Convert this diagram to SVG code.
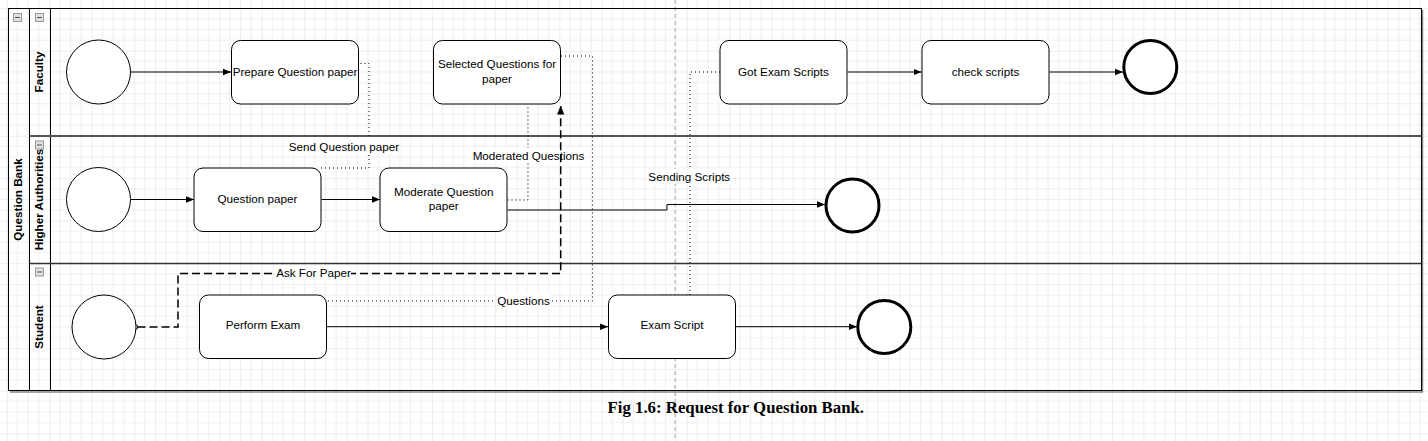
<svg xmlns="http://www.w3.org/2000/svg" width="1428" height="441" viewBox="0 0 1428 441">
<defs>
<pattern id="grid" patternUnits="userSpaceOnUse" x="6.8" y="8.2" width="42.5" height="42.5">
<rect width="42.5" height="42.5" fill="#ffffff"/>
<path d="M10.625 0V42.5M21.25 0V42.5M31.875 0V42.5M0 10.625H42.5M0 21.25H42.5M0 31.875H42.5" stroke="#efefef" stroke-width="1"/>
<path d="M0 0V42.5M0 0H42.5" stroke="#dcdcdc" stroke-width="1"/>
</pattern>
<marker id="arr" viewBox="0 0 10 10" refX="10" refY="5" markerWidth="8" markerHeight="8" markerUnits="userSpaceOnUse" orient="auto">
<path d="M0 1L10 5L0 9Z" fill="#000"/>
</marker>
<marker id="arrL" viewBox="0 0 10 10" refX="10" refY="5" markerWidth="9" markerHeight="9" markerUnits="userSpaceOnUse" orient="auto">
<path d="M0 1L10 5L0 9Z" fill="#000"/>
</marker>
</defs>
<style>
.box{fill:#fff;stroke:#000;stroke-width:1}
.start{fill:#fff;stroke:#000;stroke-width:1}
.end{fill:#fff;stroke:#000;stroke-width:3}
.t{font-family:"Liberation Sans",Arial,sans-serif;font-size:11.7px;fill:#000;text-anchor:middle}
.h{font-family:"Liberation Sans",Arial,sans-serif;font-size:11.7px;font-weight:bold;fill:#000;text-anchor:middle}
.flow{fill:none;stroke:#000;stroke-width:1;marker-end:url(#arr)}
.dot{fill:none;stroke:#000;stroke-width:1;stroke-dasharray:1 3}
.dash{fill:none;stroke:#000;stroke-width:1.5;stroke-dasharray:8 4}
.lbg{fill:#fff}
.icon{fill:#e0e0e0;stroke:#9a9a9a;stroke-width:1}
</style>
<rect width="1428" height="441" fill="url(#grid)"/>
<line x1="675" y1="0" x2="675" y2="441" stroke="#c4c4c4" stroke-width="1.5" stroke-dasharray="4 3"/>

<g id="pool">
<line x1="10" y1="392" x2="1423" y2="392" stroke="#888" stroke-width="1.5"/>
<line x1="1422.5" y1="10" x2="1422.5" y2="392" stroke="#888" stroke-width="1.5"/>
<rect x="8.5" y="8.5" width="1413" height="382" fill="none" stroke="#000" stroke-width="1"/>
<line x1="29.5" y1="8.5" x2="29.5" y2="390.5" stroke="#000"/>
<line x1="50.5" y1="8.5" x2="50.5" y2="390.5" stroke="#000"/>
<line x1="29.5" y1="136" x2="1421.5" y2="136" stroke="#555" stroke-width="1.8"/>
<line x1="29.5" y1="263.5" x2="1421.5" y2="263.5" stroke="#333" stroke-width="1.3"/>
<text class="h" transform="translate(22.3,199.5) rotate(-90)">Question Bank</text>
<rect class="icon" x="13.5" y="13.5" width="8" height="8"/><line x1="15" y1="17.5" x2="20" y2="17.5" stroke="#555"/>
</g>
<g id="lane-faculty">
<text class="h" transform="translate(43.3,72) rotate(-90)">Faculty</text>
<rect class="icon" x="35.5" y="13.5" width="8" height="8"/><line x1="37" y1="17.5" x2="42" y2="17.5" stroke="#555"/>
</g>
<g id="lane-higher">
<text class="h" transform="translate(43.3,199.5) rotate(-90)">Higher Authorities</text>
<rect class="icon" x="35.5" y="141" width="8" height="8"/><line x1="37" y1="145" x2="42" y2="145" stroke="#555"/>
</g>
<g id="lane-student">
<text class="h" transform="translate(43.3,327) rotate(-90)">Student</text>
<rect class="icon" x="35.5" y="268" width="8" height="8"/><line x1="37" y1="272" x2="42" y2="272" stroke="#555"/>
</g>

<g id="connectors">
<path class="flow" d="M130.5 72H231"/>
<path class="flow" d="M847.5 72H921.5"/>
<path class="flow" d="M1049.5 72H1123"/>
<path class="flow" d="M130.5 199.5H194"/>
<path class="flow" d="M321.5 199.5H380"/>
<path class="flow" d="M507.5 210H667V204.5H825"/>
<path class="flow" d="M327 326.7H608"/>
<path class="flow" d="M736 326.7H857"/>
<path class="dot" d="M321 168H369V63.5H359.5"/>
<path class="dot" d="M507.5 200H528V104.5"/>
<path class="dot" d="M561 56H592.5V301H327"/>
<path class="dot" d="M662 295H690V72H720"/>
<rect class="lbg" x="288" y="139" width="112" height="15"/>
<text class="t" x="344" y="150.5">Send Question paper</text>
<rect class="lbg" x="472" y="148" width="113" height="15"/>
<text class="t" x="528.5" y="159.7">Moderated Questions</text>
<rect class="lbg" x="647" y="169" width="85" height="15"/>
<text class="t" x="689.3" y="181">Sending Scripts</text>
<rect class="lbg" x="496" y="293.5" width="55" height="15"/>
<text class="t" x="523.5" y="305">Questions</text>
<path class="dash" d="M137.5 327H178V273.5H560.7V105.5" marker-end="url(#arrL)"/>
<circle cx="135.6" cy="327" r="2.2" fill="#fff" stroke="#000" stroke-width="1"/>
<rect class="lbg" x="276" y="266" width="75" height="15"/>
<text class="t" x="313.5" y="277.3">Ask For Paper</text>
</g>

<g id="start-faculty"><circle class="start" cx="98.5" cy="72" r="32"/></g>
<g id="prepare"><rect class="box" x="231.5" y="40.5" width="127" height="63.5" rx="9"/><text class="t" x="295" y="76">Prepare Question paper</text></g>
<g id="selected"><rect class="box" x="433.5" y="40.5" width="127" height="63.5" rx="9"/><text class="t" x="497" y="67.5">Selected Questions for</text><text class="t" x="497" y="83">paper</text></g>
<g id="got-exam"><rect class="box" x="720" y="40.5" width="127" height="63.5" rx="9"/><text class="t" x="783.5" y="75.5">Got Exam Scripts</text></g>
<g id="check"><rect class="box" x="922" y="40.5" width="127" height="63.5" rx="9"/><text class="t" x="985.5" y="75.5">check scripts</text></g>
<g id="end-faculty"><circle class="end" cx="1150.3" cy="67" r="26.5"/></g>

<g id="start-higher"><circle class="start" cx="98.5" cy="199.5" r="32"/></g>
<g id="question-paper"><rect class="box" x="194" y="168" width="127" height="63.5" rx="9"/><text class="t" x="257.5" y="203">Question paper</text></g>
<g id="moderate"><rect class="box" x="380" y="168" width="127" height="63.5" rx="9"/><text class="t" x="443.7" y="196">Moderate Question</text><text class="t" x="443.7" y="209.7">paper</text></g>
<g id="end-higher"><circle class="end" cx="852.5" cy="205.5" r="26.5"/></g>

<g id="start-student"><circle class="start" cx="104" cy="327" r="32"/></g>
<g id="perform"><rect class="box" x="199.5" y="295" width="127" height="63.5" rx="9"/><text class="t" x="263" y="329.3">Perform Exam</text></g>
<g id="exam-script"><rect class="box" x="608.5" y="295" width="127" height="63.5" rx="9"/><text class="t" x="672" y="329.3">Exam Script</text></g>
<g id="end-student"><circle class="end" cx="884.3" cy="327" r="26.5"/></g>

<text x="735.8" y="413" font-family="'Liberation Serif','Times New Roman',serif" font-size="16.8" font-weight="bold" text-anchor="middle" fill="#000">Fig 1.6: Request for Question Bank.</text>
</svg>
